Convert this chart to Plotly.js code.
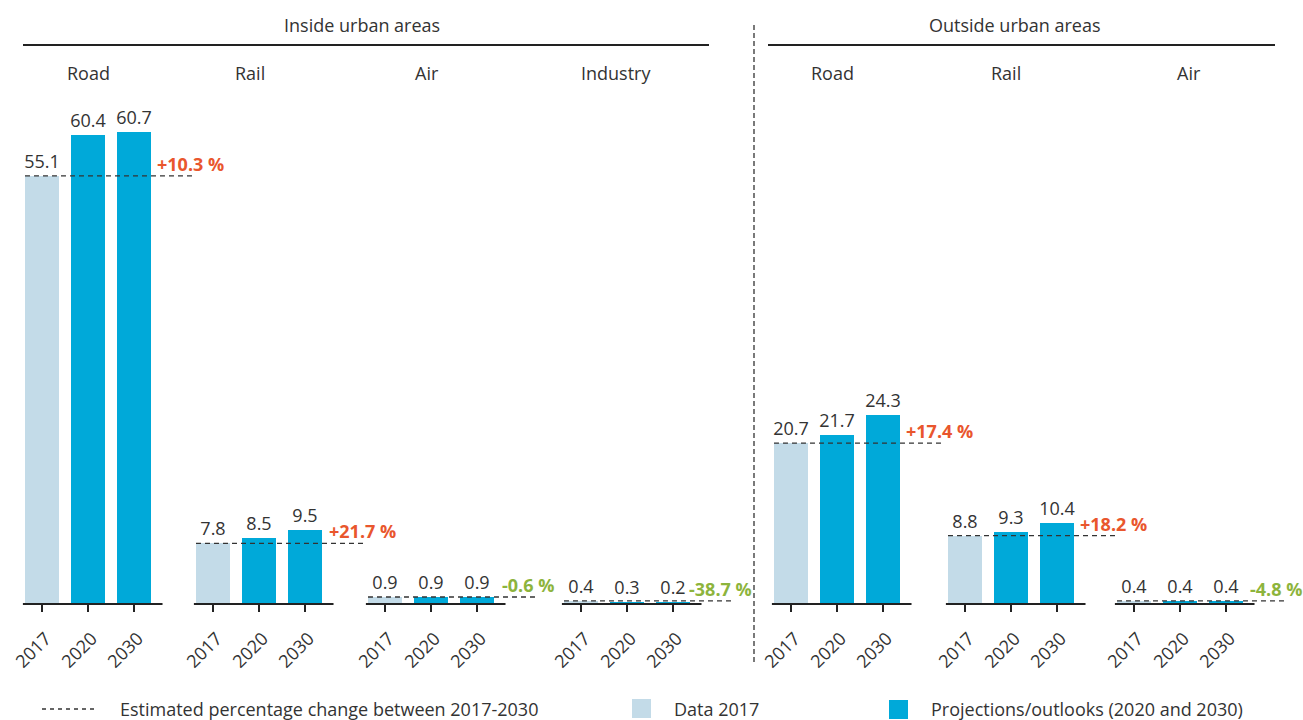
<!DOCTYPE html>
<html>
<head>
<meta charset="utf-8">
<script src="https://cdn.plot.ly/plotly-3.0.1.min.js"></script>
<style>
  html, body { margin: 0; padding: 0; background: #fff; }
  #chart { width: 1303px; height: 720px; }
</style>
</head>
<body>
<div id="chart"></div>
<script>
// ---- data ----
const years = ['2017', '2020', '2030'];
const groups = ['Inside urban areas', 'Outside urban areas'];
const modes = ['Road', 'Rail', 'Air', 'Industry', 'Road', 'Rail', 'Air'];
const roadIn = [55.1, 60.4, 60.7];
const railIn = [7.8, 8.5, 9.5];
const airIn = [0.9, 0.9, 0.9];
const industryIn = [0.4, 0.3, 0.2];
const roadOut = [20.7, 21.7, 24.3];
const railOut = [8.8, 9.3, 10.4];
const airOut = [0.4, 0.4, 0.4];
const changes = ['+10.3 %', '+21.7 %', '-0.6 %', '-38.7 %', '+17.4 %', '+18.2 %', '-4.8 %'];
const legendLabels = ['Estimated percentage change between 2017-2030', 'Data 2017', 'Projections/outlooks (2020 and 2030)'];

const panelValues = [roadIn, railIn, airIn, industryIn, roadOut, railOut, airOut];

// ---- layout (pixels in the 1303x720 frame) ----
const W = 1303, H = 720;
const firstTick = [42, 213, 385, 581, 791, 965, 1134];
const modeLabelX = [88, 250, 427, 616, 832, 1006, 1189];
const pctX = [2.45, 2.47, 2.5, 2.3, 2.45, 2.45, 2.47];
const step = 46;
const xMin = -0.42, xMax = 3.28;
const baseY = 604, topY = 100, pxPerUnit = 7.77;

const light = '#c3dbe8';
const blue = '#00a9d9';
const upColor = '#e9562d';
const downColor = '#8db43c';
const ink = '#333333';
const FONT = '"Open Sans", sans-serif';

const px = x => x / W;
const py = y => 1 - y / H;

const traces = [];
const shapes = [];
const annotations = [];
const layout = {
  width: W, height: H,
  margin: {l: 0, r: 0, t: 0, b: 0},
  paper_bgcolor: '#fff',
  plot_bgcolor: 'rgba(0,0,0,0)',
  font: {family: FONT, size: 18, color: ink},
  showlegend: false,
  bargap: 0,
  yaxis: {
    domain: [py(baseY), py(topY)],
    range: [0, (baseY - topY) / pxPerUnit],
    visible: false,
    fixedrange: true
  }
};

panelValues.forEach((vals, i) => {
  const id = i === 0 ? '' : String(i + 1);
  const xa = 'x' + id;
  const left = firstTick[i] + xMin * step;
  const right = firstTick[i] + xMax * step;

  layout['xaxis' + id] = {
    domain: [px(left), px(right)],
    range: [xMin, xMax],
    anchor: 'y',
    tickvals: [0, 1, 2],
    ticktext: years,
    tickangle: -45,
    ticks: 'outside',
    ticklen: 7,
    tickwidth: 2,
    tickcolor: '#222',
    ticklabelstandoff: 9,
    ticklabelshift: 4,
    tickfont: {size: 18, color: ink},
    showline: false,
    showgrid: false,
    zeroline: false,
    fixedrange: true
  };

  traces.push({
    type: 'bar',
    x: [0, 1, 2],
    y: vals,
    xaxis: xa, yaxis: 'y',
    width: 0.74,
    marker: {color: [light, blue, blue]},
    text: vals.map(v => v.toFixed(1)),
    textposition: 'outside',
    cliponaxis: false,
    constraintext: 'none',
    textfont: {size: 18, color: ink},
    hoverinfo: 'skip'
  });

  // reference line at 2017 level
  traces.push({
    type: 'scatter',
    mode: 'lines',
    x: [-0.37, xMax],
    y: [vals[0], vals[0]],
    xaxis: xa, yaxis: 'y',
    line: {color: '#333', width: 1.3, dash: '5px,4px'},
    hoverinfo: 'skip'
  });

  // axis baseline
  shapes.push({
    type: 'line', xref: xa, yref: 'paper',
    x0: xMin, x1: 2.62, y0: py(baseY), y1: py(baseY),
    line: {color: '#222', width: 2}
  });

  annotations.push({
    xref: xa, yref: 'y', x: pctX[i], y: vals[0],
    xanchor: 'left', yanchor: 'middle', yshift: 12,
    text: '<b>' + changes[i] + '</b>',
    showarrow: false,
    font: {size: 18, color: changes[i].startsWith('+') ? upColor : downColor}
  });

  annotations.push({
    xref: 'paper', yref: 'paper', x: px(modeLabelX[i]), y: py(73),
    xanchor: 'center', yanchor: 'middle',
    text: modes[i], showarrow: false,
    font: {size: 18, color: ink}
  });
});

// group headers
[[groups[0], 362, 23, 709], [groups[1], 1015, 768, 1275]].forEach(g => {
  annotations.push({
    xref: 'paper', yref: 'paper', x: px(g[1]), y: py(25),
    xanchor: 'center', yanchor: 'middle',
    text: g[0], showarrow: false, font: {size: 18, color: ink}
  });
  shapes.push({
    type: 'line', xref: 'paper', yref: 'paper',
    x0: px(g[2]), x1: px(g[3]), y0: py(45), y1: py(45),
    line: {color: '#222', width: 2}
  });
});

// divider between groups
shapes.push({
  type: 'line', xref: 'paper', yref: 'paper',
  x0: px(754), x1: px(754), y0: py(25), y1: py(662),
  line: {color: '#222', width: 1.2, dash: '5px,3px'}
});

// legend
shapes.push({
  type: 'line', xref: 'paper', yref: 'paper',
  x0: px(42), x1: px(97), y0: py(709), y1: py(709),
  line: {color: '#333', width: 1.3, dash: '4px,4px'}
});
shapes.push({
  type: 'rect', xref: 'paper', yref: 'paper',
  x0: px(632), x1: px(651), y0: py(699), y1: py(718),
  fillcolor: light, line: {width: 0}
});
shapes.push({
  type: 'rect', xref: 'paper', yref: 'paper',
  x0: px(889), x1: px(908), y0: py(700), y1: py(719),
  fillcolor: blue, line: {width: 0}
});
[[legendLabels[0], 118], [legendLabels[1], 672], [legendLabels[2], 929]].forEach(l => {
  annotations.push({
    xref: 'paper', yref: 'paper', x: px(l[1]), y: py(709),
    xanchor: 'left', yanchor: 'middle',
    text: l[0], showarrow: false, font: {size: 18, color: ink}
  });
});

layout.shapes = shapes;
layout.annotations = annotations;

Plotly.newPlot('chart', traces, layout, {staticPlot: true});
</script>
</body>
</html>
